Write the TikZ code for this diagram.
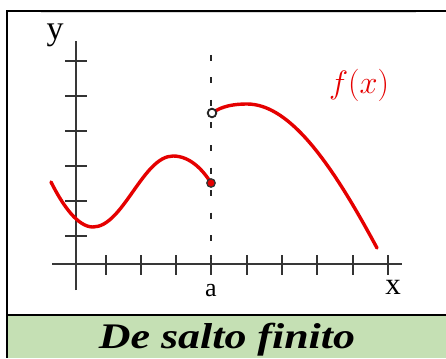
\documentclass[tikz,border=0pt]{standalone}
\usepackage{fontspec}
\usepackage{graphicx}
\setmainfont{Liberation Serif}
\begin{document}
\begin{tikzpicture}[x=1pt,y=-1pt,
  axis/.style={line width=2.2pt,draw=black!78},
  tickmark/.style={line width=1.9pt,draw=black!80},
  fcurve/.style={line width=3.4pt,draw=red!90!black,line cap=round},
  frame/.style={line width=2.4pt,draw=black}]
\useasboundingbox (0,0) rectangle (446,358);
\fill[white] (0,0) rectangle (446,358);
% green band
\fill[fill={rgb,255:red,197;green,224;blue,180}] (7,315) rectangle (446,358);
\draw[black!15,line width=1pt] (41,13) -- (416,13);
\draw[frame] (446,11) -- (7,11) -- (7,358);
\draw[frame] (7,315) -- (446,315);
% axes
\coordinate (yb) at (76,290); \coordinate (yt) at (76,41);
\coordinate (xl) at (52,264); \coordinate (xr) at (402,264);
\draw[axis] (yb) -- (yt);
\draw[axis] (xl) -- (xr);
\foreach \yy in {61,96,131,166,201,236} \draw[tickmark] (65,\yy) -- (87,\yy);
\foreach \xx in {106,141,176,211,247,282,317,353,388} \draw[tickmark] (\xx,255) -- (\xx,275);
\node[font=\fontsize{34}{34}\selectfont] (ylab) at (55,35) {y};
\node[font=\fontsize{31}{31}\selectfont] (xlab) at (393,287) {x};
\node[font=\fontsize{26}{26}\selectfont] (alab) at (211,291) {a};
% dashed line
\coordinate (dt) at (211,55); \coordinate (db) at (211,258);
\draw[line width=2pt,black!85,dash pattern=on 6pt off 16.5pt] (dt) -- (db);
% curves
\coordinate (p0) at (51,182);
\coordinate (pmin) at (93,227);
\coordinate (pmax) at (173,156);
\coordinate (pa) at (211,183);
\coordinate (qa) at (212,113);
\coordinate (qmax) at (247,104);
\coordinate (qend) at (377,248);
\draw[fcurve] (p0) .. controls (63,206) and (78,227) .. (pmin)
  .. controls (123,227) and (143,156) .. (pmax)
  .. controls (190,156) and (203,170) .. (pa);
\draw[fcurve] (qa) .. controls (222,106) and (234,104) .. (qmax)
  .. controls (292,104) and (335,170) .. (qend);
\fill[red!90!black,draw=black!80,line width=1.3pt] (pa) circle (4.2);
\fill[white,draw=black!85,line width=1.8pt] (qa) circle (4.3);
\node[text=red!90!black,font=\fontsize{24}{24}\selectfont] (flab) at (359,85) {\scalebox{1.3}{$f(x)$}};
% title
\node[font=\fontsize{36}{36}\selectfont\bfseries\itshape] (title) at (227,340) {\scalebox{1.22}[1]{De salto finito}};
\end{tikzpicture}
\end{document}
